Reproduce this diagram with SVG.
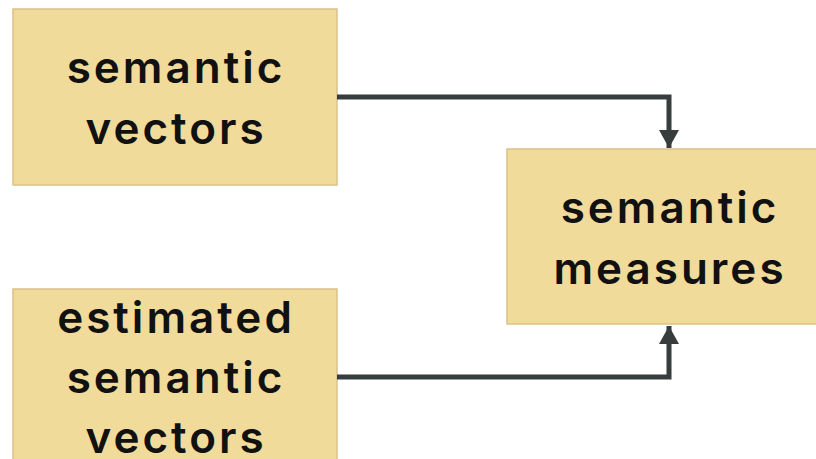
<svg xmlns="http://www.w3.org/2000/svg" width="816" height="459" viewBox="0 0 816 459">
<style>
.box{fill:#f1db9b;stroke:#dcc18a;stroke-width:1.5}
.lbl{font-family:Inter,"Noto Sans",sans-serif;font-weight:600;font-size:44px;fill:#111;text-anchor:middle;letter-spacing:3px}
.edge{fill:none;stroke:#373d3d;stroke-width:5}
</style>
<defs>
<marker id="ah" viewBox="0 0 18 20" refX="18" refY="10" markerWidth="18" markerHeight="20" markerUnits="userSpaceOnUse" orient="auto">
<path d="M0,0 L18,10 L0,20 Z" fill="#373d3d"/>
</marker>
</defs>
<rect width="816" height="459" fill="#fff"/>
<g id="node-semantic-vectors">
<rect class="box" x="13" y="9" width="324" height="176"/>
<text class="lbl" x="176" y="83">semantic</text>
<text class="lbl" x="176" y="144">vectors</text>
</g>
<g id="node-semantic-measures">
<rect class="box" x="507" y="149" width="324" height="175"/>
<text class="lbl" x="670" y="223">semantic</text>
<text class="lbl" x="670" y="284">measures</text>
</g>
<g id="node-estimated-semantic-vectors">
<rect class="box" x="13" y="289" width="324" height="176"/>
<text class="lbl" x="176" y="333">estimated</text>
<text class="lbl" x="176" y="393">semantic</text>
<text class="lbl" x="176" y="453">vectors</text>
</g>
<g id="connectors">
<path class="edge" d="M337,97 H669 V148" marker-end="url(#ah)"/>
<path class="edge" d="M337,377 H669 V326" marker-end="url(#ah)"/>
</g>
</svg>
